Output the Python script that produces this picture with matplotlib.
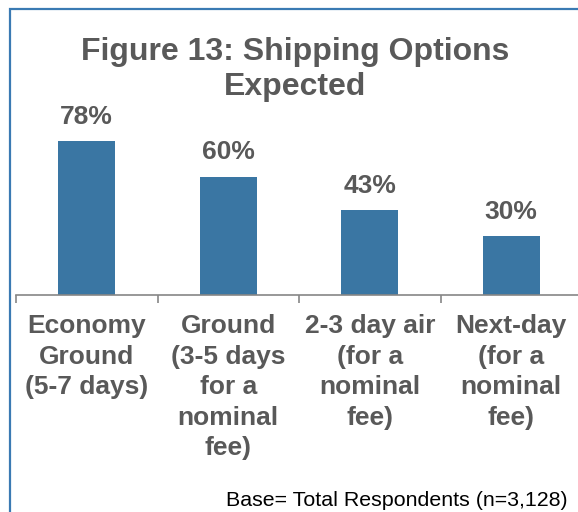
import matplotlib
matplotlib.use('Agg')
import matplotlib.pyplot as plt
from matplotlib.patches import Rectangle

plt.rcParams['font.family'] = ['Liberation Sans', 'DejaVu Sans']

categories = ['Economy\nGround\n(5-7 days)',
              'Ground\n(3-5 days\nfor a\nnominal\nfee)',
              '2-3 day air\n(for a\nnominal\nfee)',
              'Next-day\n(for a\nnominal\nfee)']
values = [78, 60, 43, 30]
title = 'Figure 13: Shipping Options\nExpected'
footnote = 'Base= Total Respondents (n=3,128)'

W, H = 578, 512
gray = '#595959'
bar_color = '#3A76A3'

fig = plt.figure(figsize=(W / 100, H / 100), dpi=100)

# axes: baseline at y=295px, categories 16..582px
ax = fig.add_axes([16 / W, (H - 295) / H, 566 / W, 197 / H])
x = range(len(values))
ax.bar(x, values, width=0.4, color=bar_color)
ax.set_xlim(-0.5, len(values) - 0.5)
ax.set_ylim(0, 100)

for xi, v in zip(x, values):
    ax.annotate(f'{v}%', (xi, v), xytext=(0, 12.5), textcoords='offset points',
                ha='center', va='baseline', fontsize=19, fontweight='bold',
                color=gray)

for s in ['top', 'right', 'left']:
    ax.spines[s].set_visible(False)
ax.spines['bottom'].set_color('#868686')
ax.spines['bottom'].set_linewidth(1.2)
ax.set_yticks([])

ax.set_xticks(list(x))
ax.set_xticklabels(categories, fontsize=19, fontweight='bold', color=gray,
                   linespacing=1.34)
ax.tick_params(axis='x', which='major', length=0, pad=14)
ax.set_xticks([i - 0.5 for i in range(len(values) + 1)], minor=True)
ax.tick_params(axis='x', which='minor', length=6, width=1.2, color='#868686')

fig.text(295 / W, 1 - 37 / H, title, ha='center', va='top', fontsize=23,
         fontweight='bold', color=gray, linespacing=1.22)

fig.text(568 / W, 6 / H, footnote, ha='right', va='baseline', fontsize=15.4,
         color='black')

fig.patches.append(Rectangle((10 / W, -0.1), 1.2, 1.1 - 9 / H,
                             transform=fig.transFigure, fill=False,
                             edgecolor='#3A7AB3', linewidth=1.6))

fig.savefig('out.png', dpi=100)
